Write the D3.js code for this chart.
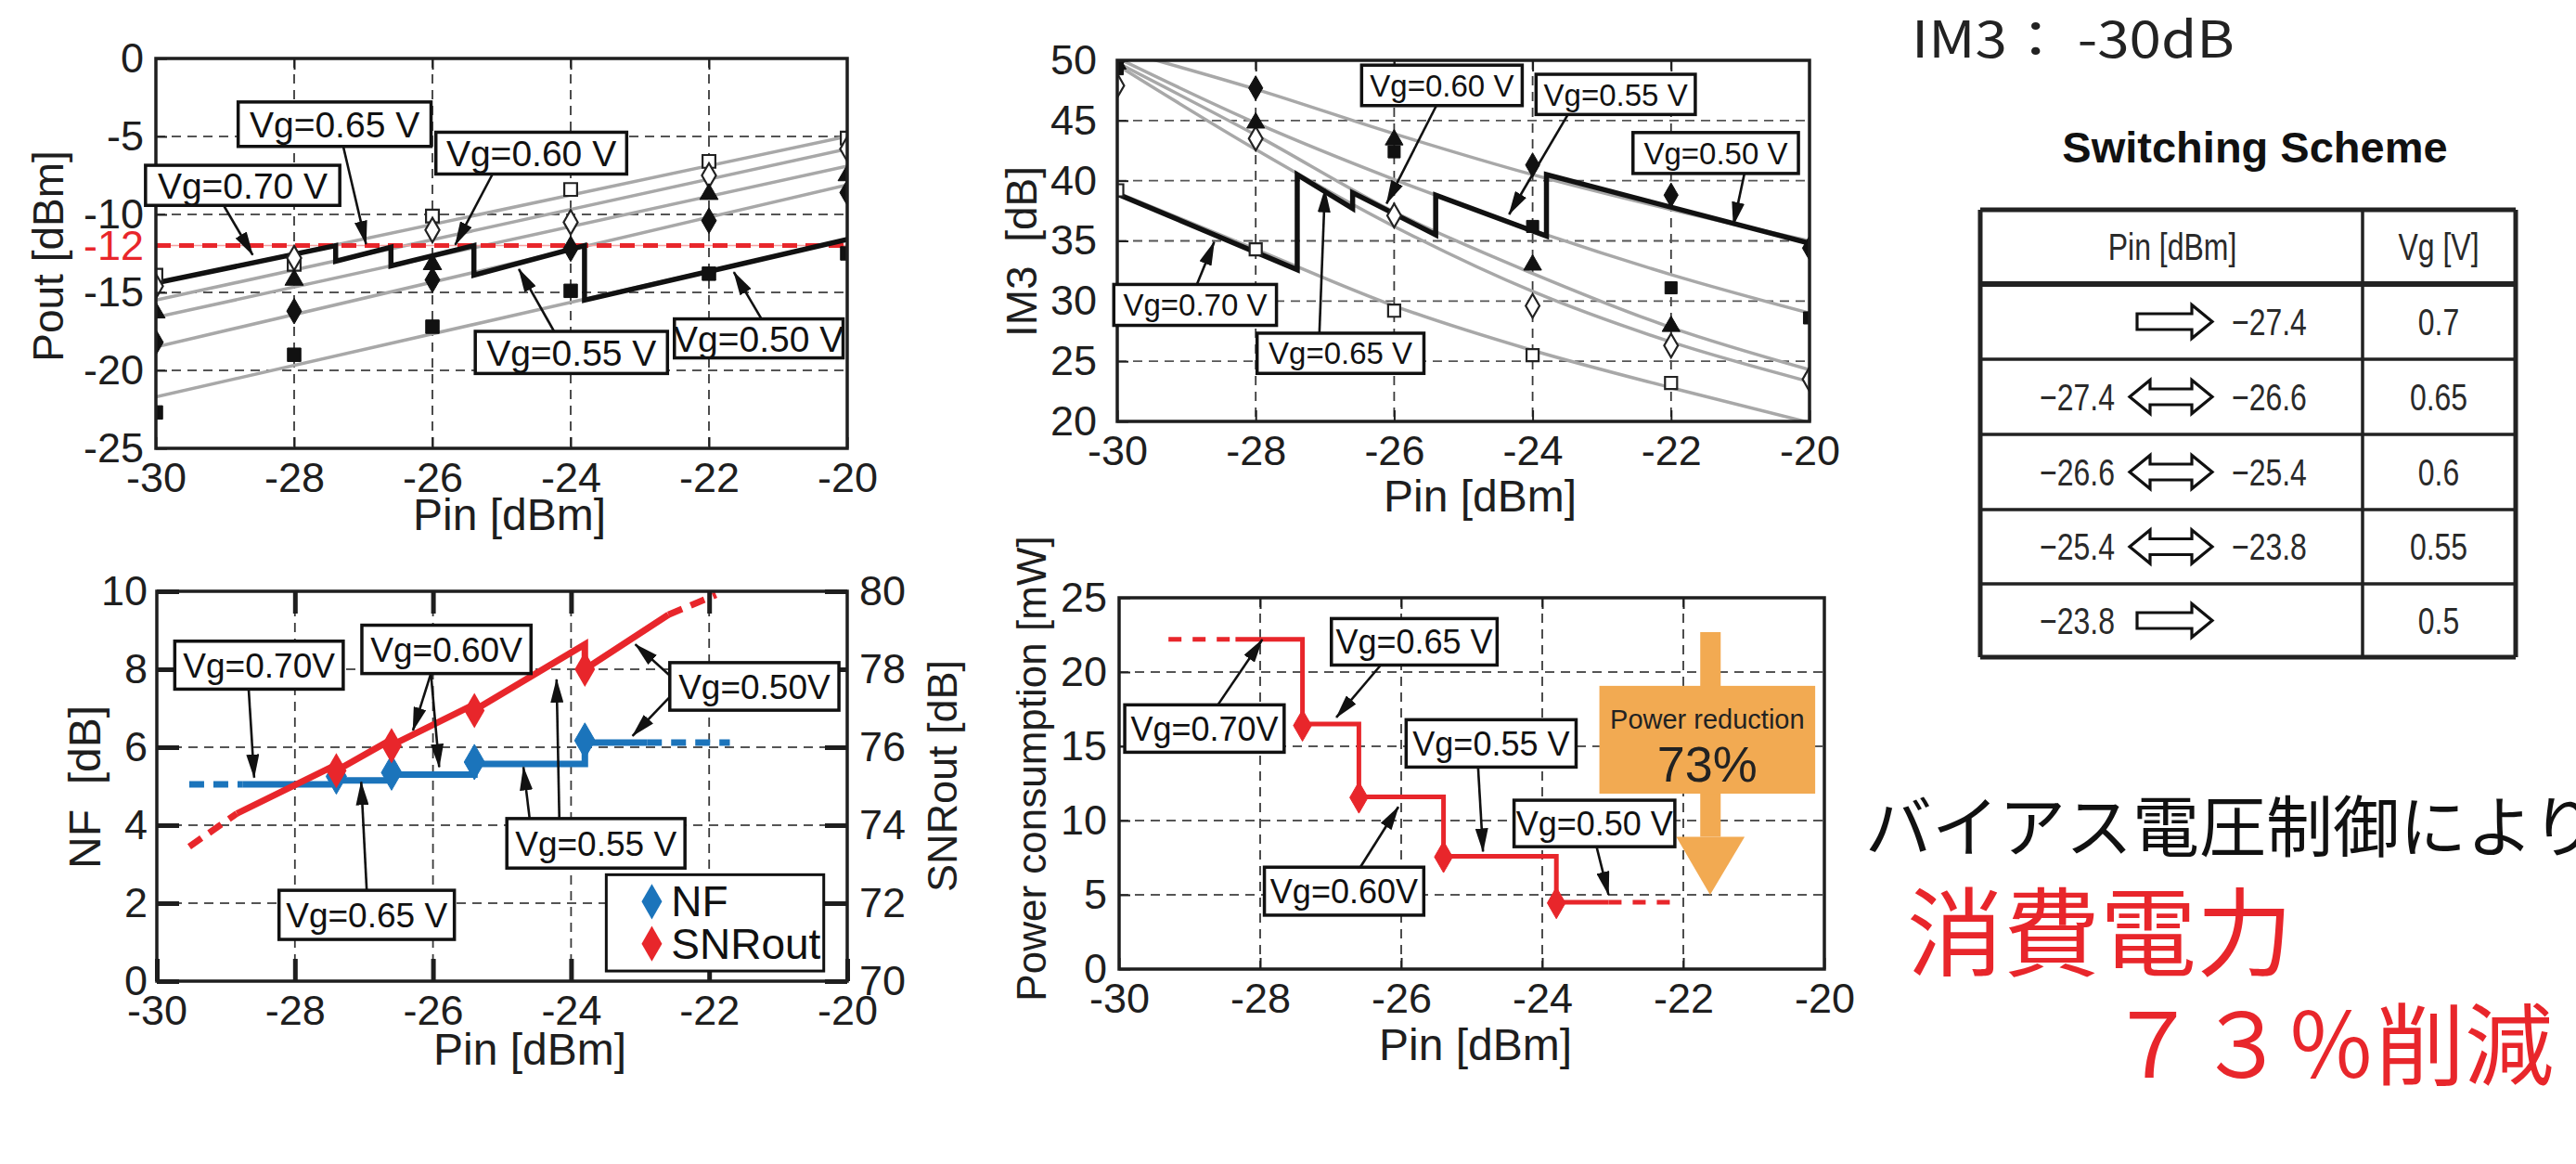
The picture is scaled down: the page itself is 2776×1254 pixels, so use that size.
<!DOCTYPE html>
<html>
<head>
<meta charset="utf-8">
<script src="https://cdn.jsdelivr.net/npm/d3@7"></script>
<style>
  body { margin: 0; background: #fff; }
  svg { display: block; }
</style>
</head>
<body>
<div id="chart"></div>
<script>
// ---------------- data ----------------
const pinTicks = [-30, -28, -26, -24, -22, -20];
const gridPin = [-28, -26, -24, -22];
const switchPin = [-27.4, -26.6, -25.4, -23.8];

// Pout vs Pin (gray lines: value at Pin=-30 and Pin=-20, Vg 0.70 .. 0.50)
const poutTicks = [0, -5, -10, -12, -15, -20, -25];
const poutGrayAt30 = [-14.4, -15.5, -16.6, -18.5, -21.7];
const poutGrayAt20 = [-5.0, -5.8, -6.9, -8.1, -11.6];
const poutSegStart = [-14.4, -13.0, -13.3, -13.9, -15.5];
const poutSegEnd = [-12.0, -12.1, -12.0, -12.0, -11.6];
const poutOpenSquare = [-13.9, -13.2, -10.1, -8.4, -6.6, -5.1];
const poutOpenDiamond = [-14.6, -12.8, -11.0, -10.5, -7.5, -5.8];
const poutTriangle = [-16.3, -14.2, -13.2, null, -8.7, -7.5];
const poutDiamond = [-18.2, -16.2, -14.2, -12.2, -10.4, -8.6];
const poutSquare = [-22.7, -19.0, -17.2, -14.9, -13.8, -12.5];
const poutTarget = -12;

// IM3 vs Pin (gray curves read at pinTicks)
const im3Ticks = [50, 45, 40, 35, 30, 25, 20];
const im3Vg070 = [39.0, 34.3, 29.6, 25.9, 22.8, 19.9];
const im3Vg065 = [49.6, 42.6, 36.2, 30.8, 26.6, 23.3];
const im3Vg060 = [49.8, 43.8, 37.4, 32.3, 27.8, 24.3];
const im3Vg055 = [50.2, 44.8, 40.1, 35.9, 32.2, 29.0];
const im3Vg050 = [50.9, 47.6, 43.9, 40.5, 37.6, 35.0];
const im3SegStart = [38.9, 40.5, 39.0, 38.8, 40.5];
const im3SegEnd = [32.6, 37.7, 35.5, 35.4, 34.8];
const im3OpenSquare = [39.2, 34.3, 29.2, 25.5, 23.2, null];
const im3OpenDiamond = [47.9, 43.5, 37.1, 29.6, 26.3, 23.5];
const im3Triangle = [49.7, 44.8, 43.4, 33.0, 27.9, null];
const im3Diamond = [49.9, 47.7, null, 41.3, 38.8, 34.4];
const im3Square = [49.3, null, 42.4, 36.2, 31.1, 28.6];

// NF / SNRout vs Pin
const nfTicks = [0, 2, 4, 6, 8, 10];
const snrTicks = [70, 72, 74, 76, 78, 80];
const nfLevel = [5.05, 5.15, 5.3, 5.57, 6.12];
const nfRange = [-29.53, -28.76, -22.9, -21.7];   // dash start, solid start, solid end, dash end
const nfMarkY = [5.25, 5.35, 5.62, 6.17];
const snrSegX0 = [-28.84, -27.4, -26.6, -25.4, -23.8];
const snrSegX1 = [-27.4, -26.6, -25.4, -23.8, -22.59];
const snrSegY0 = [74.3, 75.4, 76.05, 76.95, 78.0];
const snrSegY1 = [75.55, 76.2, 77.1, 78.64, 79.4];
const snrDashX = [[-29.53, -28.84], [-22.59, -21.9]];
const snrDashY = [[73.45, 74.3], [79.4, 79.91]];
const snrMarkY = [75.4, 76.04, 76.94, 78.0];

// Power consumption vs Pin
const pwrTicks = [0, 5, 10, 15, 20, 25];
const pwrLevel = [22.2, 16.5, 11.6, 7.6, 4.5];
const pwrRange = [-29.3, -28.35, -23.06, -22.05];
const pwrMarkY = [16.4, 11.55, 7.55, 4.45];

// switching table
const tblFrom = [null, "\u221227.4", "\u221226.6", "\u221225.4", "\u221223.8"];
const tblTo = ["\u221227.4", "\u221226.6", "\u221225.4", "\u221223.8", null];
const tblVg = ["0.7", "0.65", "0.6", "0.55", "0.5"];

// ---------------- annotations (data units) ----------------
const poutNotes = [
  ["Vg=0.65 V", -28.81, -26.02, -2.79, -5.64],
  ["Vg=0.70 V", -30.15, -27.34, -6.85, -9.42],
  ["Vg=0.60 V", -25.95, -23.19, -4.73, -7.41],
  ["Vg=0.55 V", -25.38, -22.6, -17.5, -20.2],
  ["Vg=0.50 V", -22.5, -20.06, -16.7, -19.2]
];
const poutArrows = [[-29.02, -9.42, -28.6, -12.6], [-27.29, -5.64, -26.96, -11.9], [-25.13, -7.41, -25.67, -11.95],
  [-24.24, -17.5, -24.75, -13.5], [-21.24, -16.7, -21.64, -13.7]];

const im3Notes = [
  ["Vg=0.60 V", -26.47, -24.15, 49.6, 46.24],
  ["Vg=0.55 V", -23.95, -21.65, 48.84, 45.5],
  ["Vg=0.50 V", -22.55, -20.16, 44.0, 40.6],
  ["Vg=0.70 V", -30.05, -27.7, 31.38, 27.98],
  ["Vg=0.65 V", -27.98, -25.57, 27.33, 23.99]
];
const im3Arrows = [[-28.85, 31.38, -28.6, 34.9], [-27.08, 27.33, -27.0, 39.3], [-25.39, 46.24, -26.11, 38.1],
  [-23.49, 45.5, -24.34, 37.2], [-20.94, 40.6, -21.1, 36.3]];

const nfNotes = [
  ["Vg=0.70V", -29.74, -27.3, 8.72, 7.49],
  ["Vg=0.60V", -27.03, -24.58, 9.13, 7.89],
  ["Vg=0.50V", -22.57, -20.12, 8.17, 6.95],
  ["Vg=0.55 V", -24.93, -22.35, 4.17, 2.9],
  ["Vg=0.65 V", -28.23, -25.69, 2.33, 1.07]
];
const nfArrows = [[-28.67, 7.49, -28.59, 5.22], [-26.03, 7.89, -26.29, 6.43], [-26.03, 7.89, -25.91, 5.49],
  [-22.57, 7.84, -23.07, 8.64], [-22.57, 7.29, -23.11, 6.29], [-24.6, 4.17, -24.69, 5.49],
  [-24.17, 4.17, -24.21, 7.74], [-26.96, 2.33, -27.04, 5.11]];

const pwrNotes = [
  ["Vg=0.65 V", -26.99, -24.64, 23.6, 20.47],
  ["Vg=0.70V", -29.92, -27.66, 17.79, 14.6],
  ["Vg=0.55 V", -25.93, -23.52, 16.79, 13.6],
  ["Vg=0.60V", -27.94, -25.68, 6.86, 3.63],
  ["Vg=0.50 V", -24.4, -22.12, 11.37, 8.24]
];
const pwrArrows = [[-26.29, 20.47, -26.92, 16.94], [-28.6, 17.79, -27.97, 22.19], [-24.91, 13.6, -24.84, 7.91],
  [-26.58, 6.86, -26.04, 10.92], [-23.23, 8.24, -23.06, 5.0]];

// ---------------- drawing ----------------
const FONT = "'Liberation Sans', Arial, Helvetica, sans-serif";
const JP = "'Noto Sans CJK JP', 'Noto Sans CJK SC', sans-serif";
const RED = "#e8262b", BLUE = "#1b74bb", ORANGE = "#f2aa52", GRAY = "#a8a8a8", INK = "#1e1e1e";

const svg = d3.select("#chart").append("svg").attr("width", 2776).attr("height", 1254);
svg.append("rect").attr("width", 2776).attr("height", 1254).attr("fill", "#fff");

const defs = svg.append("defs");
defs.append("marker").attr("id", "ah").attr("viewBox", "0 0 26 14")
  .attr("refX", 25).attr("refY", 7).attr("markerWidth", 26).attr("markerHeight", 14)
  .attr("markerUnits", "userSpaceOnUse").attr("orient", "auto")
  .append("path").attr("d", "M0,0 L26,7 L0,14 Z").attr("fill", "#111");

function addPanel(c) {
  const x = d3.scaleLinear().domain([-30, -20]).range([c.l, c.r]);
  const y = d3.scaleLinear().domain(c.yDom).range([c.b, c.t]);
  defs.append("clipPath").attr("id", "clip" + c.id).append("rect")
    .attr("x", c.l).attr("y", c.t).attr("width", c.r - c.l).attr("height", c.b - c.t);
  const gridG = svg.append("g");
  const plot = svg.append("g").attr("clip-path", `url(#clip${c.id})`);
  const frameG = svg.append("g");
  const notes = svg.append("g");

  gridG.selectAll(".gx").data(gridPin).join("line")
    .attr("x1", d => x(d)).attr("x2", d => x(d)).attr("y1", c.t).attr("y2", c.b)
    .attr("stroke", "#3a3a3a").attr("stroke-width", 1.8).attr("stroke-dasharray", "10,7");
  gridG.selectAll(".gy").data(c.gridY).join("line")
    .attr("x1", c.l).attr("x2", c.r).attr("y1", d => y(d)).attr("y2", d => y(d))
    .attr("stroke", "#555").attr("stroke-width", 1.8).attr("stroke-dasharray", "10,7");

  const tk = c.tick || 12, tw = c.tickW || 2;
  const axB = frameG.append("g").attr("transform", `translate(0,${c.b})`)
    .call(d3.axisBottom(x).tickValues(pinTicks).tickFormat(d => d).tickSizeInner(-tk).tickSizeOuter(0).tickPadding(15));
  const axT = frameG.append("g").attr("transform", `translate(0,${c.t})`)
    .call(d3.axisTop(x).tickValues(gridPin).tickFormat("").tickSizeInner(-tk).tickSizeOuter(0));
  const axL = frameG.append("g").attr("transform", `translate(${c.l},0)`)
    .call(d3.axisLeft(y).tickValues(c.yTicks).tickFormat(d => d).tickSizeInner(-tk).tickSizeOuter(0).tickPadding(c.padL || 13));
  [axB, axT, axL].forEach(a => {
    a.select(".domain").remove();
    a.attr("font-size", 45).attr("font-family", FONT);
    a.selectAll(".tick line").attr("stroke", INK).attr("stroke-width", tw);
    a.selectAll(".tick text").attr("fill", INK);
  });
  frameG.append("rect").attr("x", c.l).attr("y", c.t).attr("width", c.r - c.l).attr("height", c.b - c.t)
    .attr("fill", "none").attr("stroke", INK).attr("stroke-width", 3.5);

  frameG.append("text").attr("x", c.xtx).attr("y", c.xty).attr("text-anchor", "middle")
    .attr("font-family", FONT).attr("font-size", 48).attr("fill", INK).text("Pin [dBm]");
  frameG.append("text").attr("transform", `translate(${c.ytx},${c.yty}) rotate(-90)`).attr("text-anchor", "middle")
    .attr("font-family", FONT).attr("font-size", c.ytFs).attr("fill", INK).attr("xml:space", "preserve").text(c.yTitle);
  return { x, y, plot, frameG, notes, axL };
}

function drawNotes(p, notes, arrows, fs) {
  p.notes.selectAll(".arr").data(arrows).join("line")
    .attr("x1", d => p.x(d[0])).attr("y1", d => p.y(d[1])).attr("x2", d => p.x(d[2])).attr("y2", d => p.y(d[3]))
    .attr("stroke", "#111").attr("stroke-width", 2.6).attr("marker-end", "url(#ah)");
  const g = p.notes.selectAll(".note").data(notes).join("g");
  g.append("rect").attr("x", d => p.x(d[1])).attr("y", d => p.y(d[3]))
    .attr("width", d => p.x(d[2]) - p.x(d[1])).attr("height", d => p.y(d[4]) - p.y(d[3]))
    .attr("fill", "#fff").attr("stroke", "#111").attr("stroke-width", 3.5);
  g.append("text").attr("x", d => (p.x(d[1]) + p.x(d[2])) / 2).attr("y", d => (p.y(d[3]) + p.y(d[4])) / 2 + fs * 0.36)
    .attr("text-anchor", "middle").attr("font-family", FONT).attr("font-size", fs).attr("fill", "#111").text(d => d[0]);
}

function drawMarks(p, xs, ys, type, open, size, color) {
  const pts = xs.map((v, i) => [v, ys[i]]).filter(d => d[1] !== null);
  p.plot.selectAll(null).data(pts).join("path")
    .attr("transform", d => `translate(${p.x(d[0])},${p.y(d[1])})`)
    .attr("d", d3.symbol().type(type).size(size))
    .attr("fill", open ? "#fff" : color).attr("stroke", color).attr("stroke-width", open ? 2.2 : 1);
}

function sawPath(p, x0s, x1s, y0s, y1s) {
  const pts = [];
  x0s.forEach((v, i) => { pts.push([v, y0s[i]]); pts.push([x1s[i], y1s[i]]); });
  return d3.line().x(d => p.x(d[0])).y(d => p.y(d[1]))(pts);
}

const segX0 = [-30].concat(switchPin), segX1 = switchPin.concat([-20]);

// ---- panel 1: Pout ----
const p1 = addPanel({ id: 1, l: 168, r: 913, t: 63, b: 483, yDom: [-25, 0], yTicks: poutTicks,
  gridY: [-5, -10, -15, -20], xtx: 549, xty: 571, ytx: 68, yty: 276, ytFs: 46, yTitle: "Pout [dBm]" });
p1.axL.selectAll(".tick text").attr("fill", d => d === poutTarget ? RED : INK);
p1.axL.selectAll(".tick line").filter(d => d === poutTarget).remove();
p1.plot.selectAll(".gl").data(poutGrayAt30).join("line")
  .attr("x1", p1.x(-30)).attr("x2", p1.x(-20)).attr("y1", d => p1.y(d)).attr("y2", (d, i) => p1.y(poutGrayAt20[i]))
  .attr("stroke", GRAY).attr("stroke-width", 3.5);
p1.plot.append("line").attr("x1", p1.x(-30)).attr("x2", p1.x(-20)).attr("y1", p1.y(poutTarget)).attr("y2", p1.y(poutTarget))
  .attr("stroke", "#f3a0a0").attr("stroke-width", 1.5);
p1.plot.append("line").attr("x1", p1.x(-30)).attr("x2", p1.x(-20)).attr("y1", p1.y(poutTarget)).attr("y2", p1.y(poutTarget))
  .attr("stroke", RED).attr("stroke-width", 5).attr("stroke-dasharray", "16,9");
p1.plot.append("path").attr("d", sawPath(p1, segX0, segX1, poutSegStart, poutSegEnd))
  .attr("fill", "none").attr("stroke", "#111").attr("stroke-width", 5.5);
drawMarks(p1, pinTicks, poutOpenSquare, d3.symbolSquare, true, 190, "#222");
drawMarks(p1, pinTicks, poutOpenDiamond, d3.symbolDiamond, true, 200, "#222");
drawMarks(p1, pinTicks, poutTriangle, d3.symbolTriangle, false, 170, "#111");
drawMarks(p1, pinTicks, poutDiamond, d3.symbolDiamond, false, 220, "#111");
drawMarks(p1, pinTicks, poutSquare, d3.symbolSquare, false, 210, "#111");
drawNotes(p1, poutNotes, poutArrows, 39);

// ---- panel 2: IM3 ----
const p2 = addPanel({ id: 2, l: 1204, r: 1950, t: 65, b: 454, yDom: [20, 50], yTicks: im3Ticks,
  gridY: [25, 30, 35, 40, 45], padL: 22, xtx: 1595, xty: 551, ytx: 1117, yty: 271, ytFs: 46, yTitle: "IM3  [dB]" });
const curve = d3.line().x((d, i) => p2.x(pinTicks[i])).y(d => p2.y(d)).curve(d3.curveMonotoneX);
p2.plot.selectAll(".cv").data([im3Vg070, im3Vg065, im3Vg060, im3Vg055, im3Vg050]).join("path")
  .attr("d", curve).attr("fill", "none").attr("stroke", GRAY).attr("stroke-width", 3.5);
p2.plot.append("path").attr("d", sawPath(p2, segX0, segX1, im3SegStart, im3SegEnd))
  .attr("fill", "none").attr("stroke", "#111").attr("stroke-width", 5.5);
drawMarks(p2, pinTicks, im3OpenSquare, d3.symbolSquare, true, 170, "#222");
drawMarks(p2, pinTicks, im3OpenDiamond, d3.symbolDiamond, true, 190, "#222");
drawMarks(p2, pinTicks, im3Triangle, d3.symbolTriangle, false, 160, "#111");
drawMarks(p2, pinTicks, im3Diamond, d3.symbolDiamond, false, 200, "#111");
drawMarks(p2, pinTicks, im3Square, d3.symbolSquare, false, 170, "#111");
drawNotes(p2, im3Notes, im3Arrows, 33);

// ---- panel 3: NF / SNRout ----
const p3 = addPanel({ id: 3, l: 169, r: 913, t: 637, b: 1057, yDom: [0, 10], yTicks: nfTicks,
  gridY: [2, 4, 6, 8], tick: 24, tickW: 5, padL: 10, xtx: 571, xty: 1147, ytx: 108, yty: 848, ytFs: 48, yTitle: "NF  [dB]" });
const ySnr = d3.scaleLinear().domain([70, 80]).range([1057, 637]);
const axR = p3.frameG.append("g").attr("transform", "translate(913,0)")
  .call(d3.axisRight(ySnr).tickValues(snrTicks).tickSizeInner(-24).tickSizeOuter(0).tickPadding(13));
axR.select(".domain").remove();
axR.attr("font-size", 45).attr("font-family", FONT);
axR.selectAll(".tick line").attr("stroke", INK).attr("stroke-width", 5);
axR.selectAll(".tick text").attr("fill", INK);
p3.frameG.append("text").attr("transform", "translate(1031,836) rotate(-90)").attr("text-anchor", "middle")
  .attr("font-family", FONT).attr("font-size", 45).attr("fill", INK).text("SNRout [dB]");

const nfPts = [[nfRange[1], nfLevel[0]]].concat(switchPin.map((v, i) => [v, nfLevel[i + 1]])).concat([[nfRange[2], nfLevel[4]]]);
p3.plot.append("path").attr("d", d3.line().x(d => p3.x(d[0])).y(d => p3.y(d[1])).curve(d3.curveStepAfter)(nfPts))
  .attr("fill", "none").attr("stroke", BLUE).attr("stroke-width", 7);
[[nfRange[0], nfRange[1], nfLevel[0]], [nfRange[2], nfRange[3], nfLevel[4]]].forEach(d => {
  p3.plot.append("line").attr("x1", p3.x(d[0])).attr("x2", p3.x(d[1])).attr("y1", p3.y(d[2])).attr("y2", p3.y(d[2]))
    .attr("stroke", BLUE).attr("stroke-width", 7).attr("stroke-dasharray", "16,10");
});
const snrLine = d3.line().x(d => p3.x(d[0])).y(d => ySnr(d[1]));
const snrPts = [];
snrSegX0.forEach((v, i) => { snrPts.push([v, snrSegY0[i]]); snrPts.push([snrSegX1[i], snrSegY1[i]]); });
p3.plot.append("path").attr("d", snrLine(snrPts)).attr("fill", "none").attr("stroke", RED).attr("stroke-width", 7);
snrDashX.forEach((xs, i) => {
  p3.plot.append("path").attr("d", snrLine(xs.map((v, j) => [v, snrDashY[i][j]])))
    .attr("fill", "none").attr("stroke", RED).attr("stroke-width", 7).attr("stroke-dasharray", "16,10");
});
drawMarks(p3, switchPin, nfMarkY, d3.symbolDiamond, false, 420, BLUE);
p3.plot.selectAll(".sm").data(switchPin).join("path")
  .attr("transform", (d, i) => `translate(${p3.x(d)},${ySnr(snrMarkY[i])})`)
  .attr("d", d3.symbol().type(d3.symbolDiamond).size(420)).attr("fill", RED);
drawNotes(p3, nfNotes, nfArrows, 37);
// legend
const lg = p3.notes.append("g");
lg.append("rect").attr("x", p3.x(-23.49)).attr("y", p3.y(2.73)).attr("width", p3.x(-20.34) - p3.x(-23.49))
  .attr("height", p3.y(0.26) - p3.y(2.73)).attr("fill", "#fff").attr("stroke", "#111").attr("stroke-width", 3);
[["NF", BLUE, 2.04], ["SNRout", RED, 0.96]].forEach(d => {
  lg.append("path").attr("transform", `translate(${p3.x(-22.83)},${p3.y(d[2])})`)
    .attr("d", d3.symbol().type(d3.symbolDiamond).size(420)).attr("fill", d[1]);
  lg.append("text").attr("x", p3.x(-22.55)).attr("y", p3.y(d[2]) + 16).attr("font-family", FONT)
    .attr("font-size", 46).attr("fill", "#111").text(d[0]);
});

// ---- panel 4: power ----
const p4 = addPanel({ id: 4, l: 1206, r: 1966, t: 644, b: 1044, yDom: [0, 25], yTicks: pwrTicks,
  gridY: [5, 10, 15, 20], xtx: 1590, xty: 1142, ytx: 1127, yty: 828, ytFs: 44, yTitle: "Power consumption [mW]" });
const pwrPts = [[pwrRange[1], pwrLevel[0]]].concat(switchPin.map((v, i) => [v, pwrLevel[i + 1]])).concat([[pwrRange[2], pwrLevel[4]]]);
p4.plot.append("path").attr("d", d3.line().x(d => p4.x(d[0])).y(d => p4.y(d[1])).curve(d3.curveStepAfter)(pwrPts))
  .attr("fill", "none").attr("stroke", RED).attr("stroke-width", 5);
[[pwrRange[0], pwrRange[1], pwrLevel[0]], [pwrRange[2], pwrRange[3], pwrLevel[4]]].forEach(d => {
  p4.plot.append("line").attr("x1", p4.x(d[0])).attr("x2", p4.x(d[1])).attr("y1", p4.y(d[2])).attr("y2", p4.y(d[2]))
    .attr("stroke", RED).attr("stroke-width", 5).attr("stroke-dasharray", "14,12");
});
drawMarks(p4, switchPin, pwrMarkY, d3.symbolDiamond, false, 330, RED);
// orange "power reduction" arrow
const oa = p4.notes.append("g").attr("fill", ORANGE);
oa.append("rect").attr("x", p4.x(-21.76)).attr("y", p4.y(22.69)).attr("width", p4.x(-21.47) - p4.x(-21.76))
  .attr("height", p4.y(8.91) - p4.y(22.69));
oa.append("rect").attr("x", p4.x(-23.19)).attr("y", p4.y(19.07)).attr("width", p4.x(-20.13) - p4.x(-23.19))
  .attr("height", p4.y(11.81) - p4.y(19.07));
oa.append("path").attr("d", `M${p4.x(-22.1)},${p4.y(8.91)} L${p4.x(-21.13)},${p4.y(8.91)} L${p4.x(-21.62)},${p4.y(5.0)} Z`);
p4.notes.append("text").attr("x", p4.x(-21.66)).attr("y", p4.y(16.84) + 10).attr("text-anchor", "middle")
  .attr("font-family", FONT).attr("font-size", 29).attr("fill", "#222").text("Power reduction");
p4.notes.append("text").attr("x", p4.x(-21.66)).attr("y", p4.y(13.82) + 19).attr("text-anchor", "middle")
  .attr("font-family", FONT).attr("font-size", 54).attr("fill", "#222").text("73%");
drawNotes(p4, pwrNotes, pwrArrows, 36);

// ---------------- right side: text and table ----------------
svg.append("text").attr("x", 2060).attr("y", 62).attr("font-family", JP).attr("font-size", 54)
  .attr("textLength", 348).attr("lengthAdjust", "spacingAndGlyphs")
  .attr("fill", "#222").text("IM3\uff1a -30dB");
svg.append("text").attr("x", 2430).attr("y", 175).attr("text-anchor", "middle").attr("font-family", FONT)
  .attr("font-weight", "bold").attr("font-size", 47).attr("fill", "#111").text("Switching Scheme");

const rowY = [226, 306, 387, 468, 549, 629, 708];
const tL = 2134, tM = 2546, tR = 2711;
const tg = svg.append("g");
tg.selectAll(".hl").data(rowY).join("line").attr("x1", tL).attr("x2", tR).attr("y1", d => d).attr("y2", d => d)
  .attr("stroke", "#222").attr("stroke-width", (d, i) => (i === 1 ? 6 : i === 0 || i === 6 ? 5 : 3.5));
[tL, tM, tR].forEach(v => tg.append("line").attr("x1", v).attr("x2", v).attr("y1", rowY[0]).attr("y2", rowY[6])
  .attr("stroke", "#222").attr("stroke-width", v === tM ? 3.5 : 5));

function tText(str, x, y, anchor) {
  tg.append("text").attr("transform", `translate(${x},${y}) scale(0.78,1)`).attr("text-anchor", anchor)
    .attr("font-family", FONT).attr("font-size", 41).attr("fill", "#2a2a2a").text(str);
}
function tArrow(x0, x1, cy, dbl) {
  const hw = 18, sw = 8.5, hl = 22, p = d3.path();
  if (dbl) {
    p.moveTo(x0, cy); p.lineTo(x0 + hl, cy - hw); p.lineTo(x0 + hl, cy - sw);
  } else {
    p.moveTo(x0, cy - sw);
  }
  p.lineTo(x1 - hl, cy - sw); p.lineTo(x1 - hl, cy - hw); p.lineTo(x1, cy); p.lineTo(x1 - hl, cy + hw); p.lineTo(x1 - hl, cy + sw);
  if (dbl) { p.lineTo(x0 + hl, cy + sw); p.lineTo(x0 + hl, cy + hw); } else { p.lineTo(x0, cy + sw); }
  p.closePath();
  tg.append("path").attr("d", p.toString()).attr("fill", "#fff").attr("stroke", "#111").attr("stroke-width", 3.2);
}
tText("Pin [dBm]", 2341, 280, "middle");
tText("Vg [V]", 2628, 280, "middle");
tblVg.forEach((v, i) => {
  const cy = (rowY[i + 1] + rowY[i + 2]) / 2;
  const dbl = tblFrom[i] !== null && tblTo[i] !== null;
  tArrow(dbl ? 2295 : 2303, 2384, cy, dbl);
  if (tblFrom[i] !== null) tText(tblFrom[i], 2279, cy + 14, "end");
  if (tblTo[i] !== null) tText(tblTo[i], 2405, cy + 14, "start");
  tText(v, 2628, cy + 14, "middle");
});

svg.append("text").attr("x", 2010).attr("y", 917).attr("font-family", JP).attr("font-size", 72)
  .attr("fill", "#111").text("バイアス電圧制御により");
svg.append("text").attr("x", 2055).attr("y", 1044).attr("font-family", JP).attr("font-size", 104)
  .attr("fill", RED).text("消費電力");
svg.append("text").attr("x", 2272).attr("y", 1161).attr("font-family", JP).attr("font-size", 96)
  .attr("fill", RED).text("７３％削減");
</script>
</body>
</html>
